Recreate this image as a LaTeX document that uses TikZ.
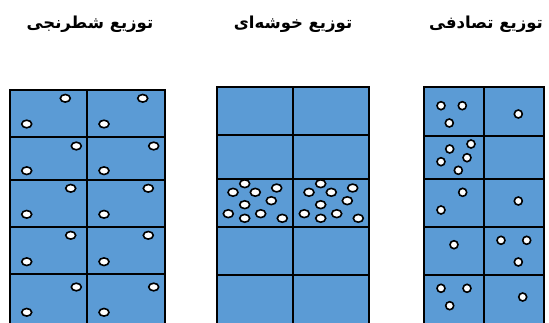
\documentclass[tikz,border=0pt]{standalone}
\usepackage{fontspec}
\newfontfamily\arabicfont[Script=Arabic]{DejaVu Sans}
\TeXXeTstate=1
\definecolor{cellblue}{HTML}{5B9BD5}
\tikzset{
  gridline/.style={draw=black, line width=1.8pt},
  cellfill/.style={fill=cellblue},
  dotst/.style={draw=black, fill=white, line width=1.6pt},
  titlest/.style={font=\arabicfont\bfseries\fontsize{16.5}{19}\selectfont, inner sep=0pt, anchor=center}
}
\begin{document}
\begin{tikzpicture}[x=1pt,y=-1pt]
\useasboundingbox (0,0) rectangle (549,322);
\clip (0,0) rectangle (549,322);
% titles
\node[titlest] (t1) at (90,24) {\beginR توزیع شطرنجی\endR};
\node[titlest] (t2) at (293,24) {\beginR توزیع خوشه‌ای\endR};
\node[titlest] (t3) at (486,24) {\beginR توزیع تصادفی\endR};
% left grid
\fill[cellfill] (10,90) rectangle (165,330);
\foreach \yy in {137,180,227,274} \draw[gridline] (10,\yy) -- (165,\yy);
\draw[gridline] (87,90) -- (87,330);
\draw[gridline] (10,330) -- (10,90) -- (165,90) -- (165,330);
% middle grid
\fill[cellfill] (217,87) rectangle (369,330);
\foreach \yy in {135,179,227,275} \draw[gridline] (217,\yy) -- (369,\yy);
\draw[gridline] (293,87) -- (293,330);
\draw[gridline] (217,330) -- (217,87) -- (369,87) -- (369,330);
% right grid
\fill[cellfill] (424,87) rectangle (544,330);
\foreach \yy in {136,179,227,275} \draw[gridline] (424,\yy) -- (544,\yy);
\draw[gridline] (484,87) -- (484,330);
\draw[gridline] (424,330) -- (424,87) -- (544,87) -- (544,330);
% left dots (stratified)
\foreach \px/\py in {65.3/98.3,26.7/124,142.7/98.3,104/124,
  76.3/146,26.7/170.7,153.7/146,104/170.7,
  70.7/188.3,26.7/214.3,148.3/188.3,104/214.3,
  70.7/235.3,26.7/261.7,148.3/235.3,104/261.7,
  76.3/287,26.7/312.3,153.7/287,104/312.3}
  \draw[dotst] (\px,\py) ellipse (5pt and 3.8pt);
% middle dots (clustered)
\foreach \dx in {0,76}{
  \foreach \px/\py in {244.7/183.7,233/192.3,255.3/192.3,276.7/188,271.3/200.7,
    244.7/204.7,228.3/213.7,244.7/218.3,260.7/213.7,282.3/218.3}
    \draw[dotst] (\px+\dx,\py) ellipse (5pt and 3.9pt);
}
% right dots (random)
\foreach \px/\py in {441/105.7,462.3/105.7,449.3/123,518.3/114,
  471/144,449.7/149,467/157.7,441/161.7,458.3/170.3,
  462.7/192.3,441/210,518.3/201,
  454/244.7,501/240.3,526.7/240.3,518.3/262,
  441/288.3,467/288.3,449.7/305.7,522.7/297}
  \draw[dotst] (\px,\py) circle (4pt);
\end{tikzpicture}
\end{document}
